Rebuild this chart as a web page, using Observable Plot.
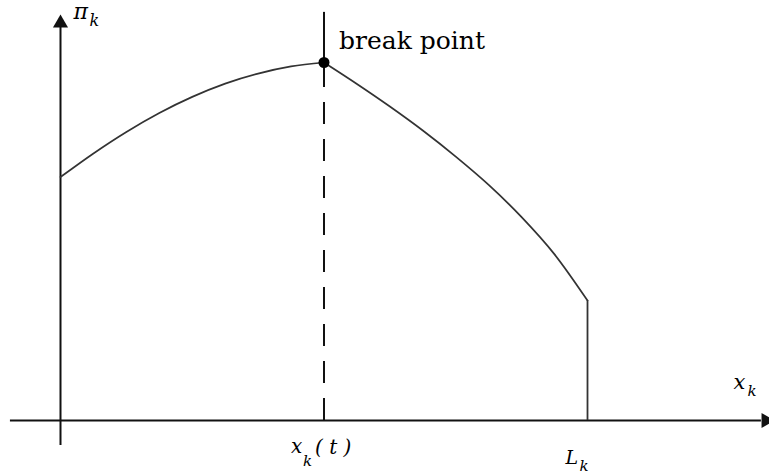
<!DOCTYPE html>
<html><head><meta charset="utf-8">
<script src="https://cdn.jsdelivr.net/npm/d3@7"></script>
<script src="https://cdn.jsdelivr.net/npm/@observablehq/plot@0.6"></script>
<style>
html,body{margin:0;padding:0;background:#fff;overflow:hidden}
</style>
</head><body><div id="chart"></div>
<script>
// Rising branch (0 .. x_k(t)) and falling branch (x_k(t) .. L_k)
const riseX = [0, 0.625, 1.25, 1.875, 2.5, 3.125, 3.75, 4.375, 5];
const riseY = [6.80, 7.46, 8.06, 8.59, 9.04, 9.41, 9.69, 9.89, 10];
const fallX = [5, 5.625, 6.25, 6.875, 7.5, 8.125, 8.75, 9.375, 10];
const fallY = [10, 9.40, 8.77, 8.10, 7.37, 6.58, 5.68, 4.64, 3.35];
const breakX = 5;        // x_k(t)
const breakY = 10;       // pi_k at the break point
const capacityL = 10;    // L_k
const capacityY = 3.35;  // pi_k at L_k
// frame extents (data units)
const xAxisFrom = -0.95, xAxisTo = 13.3;
const yAxisFrom = -0.70, yAxisTo = 11.0;
const guideTop = 11.4;
// texts
const labelBreak = "break point";
const labelPi = "\u03C0";
const labelX = "x";
const labelSub = "k";
const labelT = "( t )";
const labelL = "L";

const rise = riseX.map((x, i) => ({x, y: riseY[i]}));
const fall = fallX.map((x, i) => ({x, y: fallY[i]}));
const serif = "DejaVu Serif";
const ink = "#111";

const chart = Plot.plot({
  width: 769, height: 475, margin: 0,
  style: {background: "#fff"},
  x: {domain: [-1.1385, 13.4535], axis: null},
  y: {domain: [-1.5363, 11.7318], axis: null},
  marks: [
    // axes
    Plot.ruleY([0], {x1: xAxisFrom, x2: xAxisTo, stroke: ink, strokeWidth: 2}),
    Plot.ruleX([0], {y1: yAxisFrom, y2: yAxisTo, stroke: ink, strokeWidth: 2}),
    Plot.dot([{x: 0, y: 11.10}], {x: "x", y: "y", symbol: "triangle", r: 5.6, fill: ink, stroke: null}),
    Plot.dot([{x: 13.385, y: 0}], {x: "x", y: "y", symbol: "triangle", r: 5.6, fill: ink, stroke: null, rotate: 90}),
    // guide at break point
    Plot.ruleX([breakX], {y1: 0, y2: breakY, stroke: ink, strokeWidth: 2, strokeDasharray: "22,15"}),
    Plot.ruleX([breakX], {y1: breakY, y2: guideTop, stroke: ink, strokeWidth: 2}),
    // L_k
    Plot.ruleX([capacityL], {y1: 0, y2: capacityY, stroke: "#333", strokeWidth: 1.8}),
    // curve
    Plot.line(rise, {x: "x", y: "y", curve: "monotone-x", stroke: "#333", strokeWidth: 1.7}),
    Plot.line(fall, {x: "x", y: "y", curve: "monotone-x", stroke: "#333", strokeWidth: 1.7}),
    Plot.dot([{x: breakX, y: breakY}], {x: "x", y: "y", r: 5.5, fill: "#000", stroke: null}),
    // texts
    Plot.text([labelBreak], {x: breakX, y: breakY, text: d => d, textAnchor: "start", lineAnchor: "bottom",
      dx: 15, dy: -13, fontFamily: serif, fontSize: 25, fill: "#000"}),
    Plot.text([labelPi], {x: 0, y: guideTop, text: d => d, textAnchor: "start", lineAnchor: "bottom",
      dx: 13, dy: 7, fontFamily: serif, fontStyle: "italic", fontSize: 22, fill: "#000"}),
    Plot.text([labelSub], {x: 0, y: guideTop, text: d => d, textAnchor: "start", lineAnchor: "bottom",
      dx: 29, dy: 14, fontFamily: serif, fontStyle: "italic", fontSize: 16, fill: "#000"}),
    Plot.text([labelX], {x: xAxisTo, y: 0, text: d => d, textAnchor: "start", lineAnchor: "bottom",
      dx: -28, dy: -32, fontFamily: serif, fontStyle: "italic", fontSize: 21, fill: "#000"}),
    Plot.text([labelSub], {x: xAxisTo, y: 0, text: d => d, textAnchor: "start", lineAnchor: "bottom",
      dx: -14, dy: -25, fontFamily: serif, fontStyle: "italic", fontSize: 15, fill: "#000"}),
    Plot.text([labelX], {x: breakX, y: 0, text: d => d, textAnchor: "start", lineAnchor: "bottom",
      dx: -33, dy: 32, fontFamily: serif, fontStyle: "italic", fontSize: 20, fill: "#000"}),
    Plot.text([labelSub], {x: breakX, y: 0, text: d => d, textAnchor: "start", lineAnchor: "bottom",
      dx: -21, dy: 45, fontFamily: serif, fontStyle: "italic", fontSize: 15, fill: "#000"}),
    Plot.text([labelT], {x: breakX, y: 0, text: d => d, textAnchor: "start", lineAnchor: "bottom",
      dx: -9, dy: 33, fontFamily: serif, fontStyle: "italic", fontSize: 20, fill: "#000"}),
    Plot.text([labelL], {x: capacityL, y: 0, text: d => d, textAnchor: "start", lineAnchor: "bottom",
      dx: -22, dy: 43, fontFamily: serif, fontStyle: "italic", fontSize: 19, fill: "#000"}),
    Plot.text([labelSub], {x: capacityL, y: 0, text: d => d, textAnchor: "start", lineAnchor: "bottom",
      dx: -8, dy: 50, fontFamily: serif, fontStyle: "italic", fontSize: 15, fill: "#000"})
  ]
});
document.getElementById("chart").append(chart);
</script></body></html>
